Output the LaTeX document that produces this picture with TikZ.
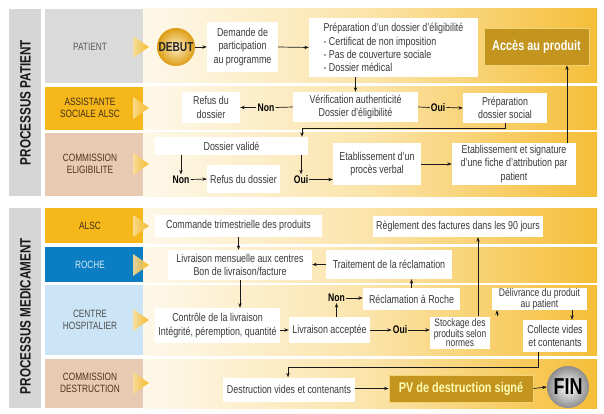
\documentclass[tikz,border=0pt]{standalone}
\usepackage{fontspec}
\setmainfont{Liberation Sans}[FakeStretch=0.78]
\usetikzlibrary{arrows.meta,calc}
\definecolor{gbar}{HTML}{D6D6D6}
\definecolor{glab}{HTML}{DADADA}
\definecolor{yel}{HTML}{F5B719}
\definecolor{tan}{HTML}{E8CAB2}
\definecolor{rblue}{HTML}{0B7DC3}
\definecolor{lblue}{HTML}{CCE5F6}
\definecolor{dgold}{HTML}{C3951E}
\definecolor{lgold}{HTML}{F2D272}
\definecolor{txt}{HTML}{3A3A3A}
\definecolor{bgl}{HTML}{FEF8EA}
\definecolor{bgm}{HTML}{FBE4AA}
\definecolor{bgr}{HTML}{F5BE38}
\begin{document}
\begin{tikzpicture}[x=1pt,y=-1pt,
  bx/.style={fill=white,inner sep=0pt,align=center,text=txt,font=\fontsize{11.4}{13.2}\selectfont},
  lab/.style={align=center,inner sep=0pt,font=\fontsize{10.6}{12.5}\selectfont},
  yn/.style={inner sep=1pt,font=\bfseries\fontsize{11}{12}\selectfont,text=black},
  arr/.style={-{Stealth[length=4.5pt,width=3.4pt]},line width=0.7pt,draw=black!90},
  ln/.style={line width=0.7pt,draw=black!90},
  band/.style={left color=bgl,right color=bgr,middle color=bgm},
  tri/.style={left color=yel!45,right color=yel!95!orange,draw=none,opacity=0.9},
  vt/.style={rotate=90,inner sep=0pt,font=\bfseries\fontsize{15}{15}\selectfont,text=black!90}]
\useasboundingbox (0,0) rectangle (604,414);
\fill[white] (0,0) rectangle (604,414);

% ---------- top section ----------
\fill[gbar] (9,9) rectangle (41,196);
\node[vt] (vpat) at (25.5,102.5) {PROCESSUS PATIENT};
\fill[glab] (45,9) rectangle (143,83);
\fill[yel] (45,87) rectangle (143,130);
\fill[tan] (45,133) rectangle (143,196);
\shade[band] (143,9) rectangle (597,83);
\shade[band] (143,87) rectangle (597,130);
\shade[band] (143,133) rectangle (597,196);
\node[lab,text=black!65] (lpat) at (90,47) {PATIENT};
\node[lab,text=black!65!brown] (lass) at (90,108) {ASSISTANTE\\SOCIALE ALSC};
\node[lab,text=black!60!brown] (lcom) at (90,164) {COMMISSION\\ELIGIBILITE};
\shade[tri] (133,36) -- (149,47) -- (133,58) -- cycle;
\shade[tri] (133,97) -- (149,108) -- (133,119) -- cycle;
\shade[tri] (133,153) -- (149,164) -- (133,175) -- cycle;

% ---------- bottom section ----------
\fill[gbar] (9,208) rectangle (41,408);
\node[vt] (vmed) at (25.5,316) {PROCESSUS MEDICAMENT};
\fill[yel] (45,208) rectangle (143,243);
\fill[rblue] (45,247) rectangle (143,282);
\fill[lblue] (45,285) rectangle (143,355);
\fill[tan] (45,359) rectangle (143,408);
\shade[band] (143,208) rectangle (597,243);
\shade[band] (143,247) rectangle (597,282);
\shade[band] (143,285) rectangle (597,355);
\shade[band] (143,359) rectangle (597,408);
\node[lab,text=black!65!brown] (lalsc) at (90,226) {ALSC};
\node[lab,text=lblue!80!white] (lroc) at (90,265) {ROCHE};
\node[lab,text=black!70] (lcen) at (90,320) {CENTRE\\HOSPITALIER};
\node[lab,text=black!60!brown] (ldes) at (90,383) {COMMISSION\\DESTRUCTION};
\shade[tri] (133,215) -- (149,226) -- (133,237) -- cycle;
\shade[tri] (133,254) -- (149,265) -- (133,276) -- cycle;
\shade[tri] (133,309) -- (149,320) -- (133,331) -- cycle;
\shade[tri] (133,372) -- (149,383) -- (133,394) -- cycle;

% ---------- top nodes ----------
\node[circle,minimum size=38,inner sep=0pt,inner color=yel!25,outer color=yel!85!orange!90!black,
      font=\bfseries\fontsize{13}{13}\selectfont,text=black!85] (debut) at (176,47) {DEBUT};
\node[bx,minimum width=71,minimum height=50] (demande) at (242.5,47) {Demande de\\participation\\au programme};
\node[bx,align=left,minimum width=169,minimum height=59] (prep) at (393.5,47.5)
  {Préparation d’un dossier d’éligibilité\\- Certificat de non imposition\\- Pas de couverture sociale\\- Dossier médical};
\node[fill=dgold,draw=lgold,line width=0.8pt,inner sep=0pt,minimum width=105,minimum height=37,
      font=\bfseries\fontsize{14}{15}\selectfont,text=white] (acces) at (536.5,46.5) {Accès au produit};

\node[bx,minimum width=58,minimum height=31] (refus1) at (211,107.5) {Refus du\\dossier};
\node[yn] (non1) at (266,107.5) {Non};
\node[bx,minimum width=125,minimum height=30] (verif) at (355.5,107) {Vérification authenticité\\Dossier d’éligibilité};
\node[yn] (oui1) at (438,107.5) {Oui};
\node[bx,minimum width=84,minimum height=30] (prepsoc) at (505,108) {Préparation\\dossier social};

\node[bx,minimum width=153,minimum height=18] (dvalide) at (231.5,146) {Dossier validé};
\node[yn] (non2) at (181,179.5) {Non};
\node[yn] (oui2) at (301,179.5) {Oui};
\node[bx,minimum width=73,minimum height=28] (refus2) at (243.5,179) {Refus du dossier};
\node[bx,minimum width=88,minimum height=42] (pv1) at (377,164) {Etablissement d’un\\procès verbal};
\node[bx,minimum width=124,minimum height=42] (fiche) at (514,164) {Etablissement et signature\\d’une fiche d’attribution par\\patient};

\coordinate (c1) at (302,128);
\coordinate (c2) at (567,100);

\draw[arr] (debut.east) -- (demande.west);
\draw[arr] (demande.east) -- (prep.west);
\draw[arr] (prep.south -| verif.north) -- (verif.north);
\draw[ln] (verif.west) -- (non1.east);
\draw[arr] (non1.west) -- (refus1.east);
\draw[ln] (verif.east) -- (oui1.west);
\draw[arr] (oui1.east) -- (prepsoc.west);
\draw[arr] (prepsoc.south) |- (c1) -- (c1 |- dvalide.north);
\draw[arr] (dvalide.south -| non2) -- (non2.north);
\draw[arr] (dvalide.south -| oui2) -- (oui2.north);
\draw[arr] (non2.east) -- (refus2.west);
\draw[arr] (oui2.east) -- (oui2.east -| pv1.west);
\draw[arr] (pv1.east) -- (fiche.west);
\draw[arr] (c2 |- fiche.north) -- (c2 |- acces.south);

% ---------- bottom nodes ----------
\node[bx,minimum width=167,minimum height=22] (commande) at (238.5,226) {Commande trimestrielle des produits};
\node[bx,minimum width=170,minimum height=21] (reglement) at (458,226.5) {Règlement des factures dans les 90 jours};
\node[bx,minimum width=144,minimum height=30] (livraison) at (240,265) {Livraison mensuelle aux centres\\Bon de livraison/facture};
\node[bx,minimum width=126,minimum height=29] (traitement) at (389,264.5) {Traitement de la réclamation};
\node[bx,minimum width=125,minimum height=35] (controle) at (217.5,325.5) {Contrôle de la livraison\\Intégrité, péremption, quantité};
\node[bx,minimum width=81,minimum height=26] (accept) at (329.5,330) {Livraison acceptée};
\node[yn] (oui3) at (400,330) {Oui};
\node[bx,minimum width=60,minimum height=32,font=\fontsize{10.8}{9.6}\selectfont] (stock) at (460,332.5) {Stockage des\\produits selon\\normes};
\node[yn] (non3) at (336.5,298) {Non};
\node[bx,minimum width=97,minimum height=22] (reclam) at (411.5,299) {Réclamation à Roche};
\node[bx,minimum width=95,minimum height=22,font=\fontsize{11}{9.6}\selectfont] (deliv) at (539.5,299) {Délivrance du produit\\au patient};
\node[bx,minimum width=64,minimum height=32] (collecte) at (555,336) {Collecte vides\\et contenants};
\node[bx,minimum width=132,minimum height=24] (destr) at (289,389.5) {Destruction vides et contenants};
\node[fill=dgold,draw=lgold,line width=0.8pt,inner sep=0pt,minimum width=144,minimum height=27,
      font=\bfseries\fontsize{14}{15}\selectfont,text=yellow!30] (pvd) at (461,388.5) {PV de destruction signé};
\node[circle,minimum size=42,inner sep=0pt,inner color=white,outer color=black!45,
      font=\bfseries\fontsize{23}{23}\selectfont,text=black] (fin) at (568,387) {FIN};

\coordinate (c3) at (478,300);
\coordinate (c4) at (497,300);
\coordinate (c5) at (572,300);
\coordinate (c6) at (538,367);
\coordinate (c7) at (288,367);

\draw[arr] (commande.south) -- (commande.south |- livraison.north);
\draw[arr] (livraison.south) -- (livraison.south |- controle.north);
\draw[arr] (traitement.west) -- (traitement.west -| livraison.east);
\draw[arr] (controle.east |- accept.west) -- (accept.west);
\draw[arr] (accept.east) -- (oui3.west);
\draw[arr] (oui3.east) -- (oui3.east -| stock.west);
\draw[arr] (accept.north -| non3) -- (non3.south);
\draw[arr] (non3.east) -- (non3.east -| reclam.west);
\draw[arr] (reclam.north) -- (reclam.north |- traitement.south);
\draw[arr] (c3 |- stock.north) -- (c3 |- reglement.south);
\draw[arr] (c4 |- stock.north) -- (c4 |- deliv.south);
\draw[arr] (c5 |- deliv.south) -- (c5 |- collecte.north);
\draw[arr] (c6 |- collecte.south) |- (c7) -- (c7 |- destr.north);
\draw[arr] (destr.east |- pvd.west) -- (pvd.west);
\draw[arr] (pvd.east) -- (fin.west);
\end{tikzpicture}
\end{document}
